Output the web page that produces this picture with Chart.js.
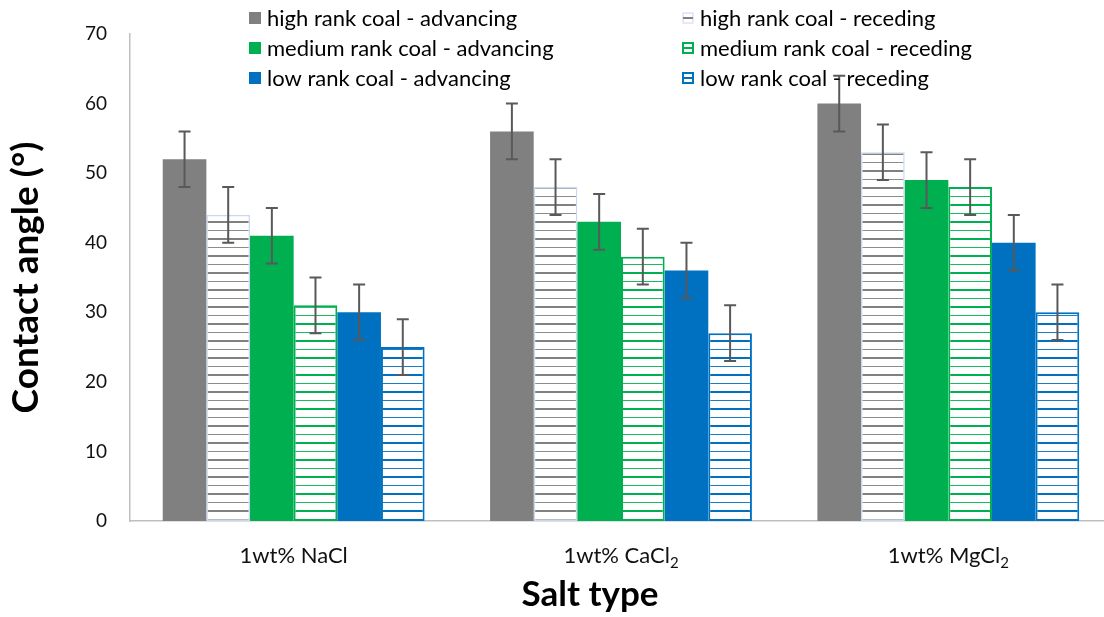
<!DOCTYPE html>
<html>
<head>
<meta charset="utf-8">
<script src="https://cdn.jsdelivr.net/npm/chart.js@4.4.1/dist/chart.umd.min.js"></script>
<style>
html,body{margin:0;padding:0;background:#fff;overflow:hidden;width:1104px;height:617px;}
#wrap{position:relative;width:1112px;height:617px;}
</style>
</head>
<body>
<div id="wrap"><canvas id="c"></canvas></div>
<script>
// ---- data ----
const categories = ['1wt% NaCl', '1wt% CaCl\u2082', '1wt% MgCl\u2082'];
const seriesNames = [
  'high rank coal - advancing', 'high rank coal - receding',
  'medium rank coal - advancing', 'medium rank coal - receding',
  'low rank coal - advancing', 'low rank coal - receding'
];
const highAdvancing   = [52, 56, 60];
const highReceding    = [44, 48, 53];
const mediumAdvancing = [41, 43, 49];
const mediumReceding  = [31, 38, 48];
const lowAdvancing    = [30, 36, 40];
const lowReceding     = [25, 27, 30];
const highAdvancingErr   = [4, 4, 4];
const highRecedingErr    = [4, 4, 4];
const mediumAdvancingErr = [4, 4, 4];
const mediumRecedingErr  = [4, 4, 4];
const lowAdvancingErr    = [4, 4, 4];
const lowRecedingErr     = [4, 4, 4];
const yTicks = [0, 10, 20, 30, 40, 50, 60, 70];
const xTitle = 'Salt type';
const yTitle = 'Contact angle (\u00b0)';

// ---- styles ----
const GRAY = '#808080', GREEN = '#00b050', BLUE = '#0070c0';
function hatch(color) {
  const c = document.createElement('canvas');
  c.width = 8; c.height = 17;
  const x = c.getContext('2d');
  x.fillStyle = '#ffffff'; x.fillRect(0, 0, 8, 17);
  x.fillStyle = color;
  x.fillRect(0, 0, 8, 2);
  x.globalAlpha = 0.9;
  x.fillRect(0, 9, 8, 1);
  return x.createPattern(c, 'repeat');
}
const ctx0 = document.getElementById('c').getContext('2d');

const seriesValues = [highAdvancing, highReceding, mediumAdvancing, mediumReceding, lowAdvancing, lowReceding];
const seriesErrors = [highAdvancingErr, highRecedingErr, mediumAdvancingErr, mediumRecedingErr, lowAdvancingErr, lowRecedingErr];
const fills   = [GRAY, hatch(GRAY), GREEN, hatch(GREEN), BLUE, hatch(BLUE)];
const borders = [GRAY, '#c9d8ee', GREEN, GREEN, BLUE, BLUE];
const bwidths = [0, 1.5, 0, 2, 0, 2];
const lineCol = [GRAY, GRAY, GREEN, GREEN, BLUE, BLUE];
const hatched = [false, true, false, true, false, true];

const datasets = seriesNames.map((n, i) => ({
  label: n,
  data: seriesValues[i],
  errors: seriesErrors[i],
  backgroundColor: fills[i],
  borderColor: borders[i],
  borderWidth: bwidths[i],
  borderSkipped: false,
  barPercentage: 1.0,
  categoryPercentage: 0.8
}));

const FONT = 'Lato, "Noto Sans", sans-serif';

const errorBars = {
  id: 'errorBars',
  afterDatasetsDraw(chart) {
    const ctx = chart.ctx, y = chart.scales.y;
    ctx.save();
    ctx.strokeStyle = '#595959';
    ctx.lineWidth = 2;
    chart.data.datasets.forEach((ds, i) => {
      const meta = chart.getDatasetMeta(i);
      meta.data.forEach((el, j) => {
        const v = ds.data[j], e = ds.errors[j];
        const yt = y.getPixelForValue(v + e), yb = y.getPixelForValue(v - e);
        const x = el.x, cap = 6;
        ctx.beginPath();
        ctx.moveTo(x, yt); ctx.lineTo(x, yb);
        ctx.moveTo(x - cap, yt); ctx.lineTo(x + cap, yt);
        ctx.moveTo(x - cap, yb); ctx.lineTo(x + cap, yb);
        ctx.stroke();
      });
    });
    ctx.restore();
  }
};

// category labels with true subscripts + x title
const SUB = '\u2080\u2081\u2082\u2083\u2084\u2085\u2086\u2087\u2088\u2089';
const xLabels = {
  id: 'xLabels',
  afterDraw(chart) {
    const ctx = chart.ctx, xs = chart.scales.x;
    const size = 22, subSize = 15;
    ctx.save();
    ctx.fillStyle = '#111';
    ctx.textBaseline = 'alphabetic';
    ctx.textAlign = 'left';
    chart.data.labels.forEach((lab, i) => {
      const parts = [];
      for (const ch of lab) {
        const k = SUB.indexOf(ch);
        const sub = k >= 0;
        const t = sub ? String(k) : ch;
        if (parts.length && parts[parts.length - 1].sub === sub) parts[parts.length - 1].t += t;
        else parts.push({ t, sub });
      }
      let w = 0;
      parts.forEach(p => { ctx.font = (p.sub ? subSize : size) + 'px ' + FONT; p.w = ctx.measureText(p.t).width; w += p.w; });
      let x = xs.getPixelForValue(i) - w / 2;
      const base = 563;
      parts.forEach(p => {
        ctx.font = (p.sub ? subSize : size) + 'px ' + FONT;
        ctx.fillText(p.t, x, p.sub ? base + 5 : base);
        x += p.w;
      });
    });
    ctx.font = 'bold 35px ' + FONT;
    ctx.fillStyle = '#000';
    ctx.textAlign = 'center';
    ctx.textBaseline = 'middle';
    ctx.fillText(xTitle, 590, 595);
    ctx.restore();
  }
};

const legendGrid = {
  id: 'legendGrid',
  afterDraw(chart) {
    const ctx = chart.ctx;
    const colX = [249, 682];
    const rowY = [18, 48, 78];
    ctx.save();
    ctx.font = '22px ' + FONT;
    ctx.textBaseline = 'middle';
    chart.data.datasets.forEach((ds, i) => {
      const col = i % 2, row = Math.floor(i / 2);
      const sx = colX[col], sy = rowY[row];
      const s = 12;
      if (hatched[i]) {
        ctx.fillStyle = '#fff';
        ctx.fillRect(sx, sy - s / 2, s, s);
        ctx.strokeStyle = borders[i];
        ctx.lineWidth = i === 1 ? 1 : 2;
        ctx.strokeRect(sx + 1, sy - s / 2 + 1, s - 2, s - 2);
        ctx.fillStyle = lineCol[i];
        ctx.fillRect(sx + 1, sy - 1, s - 2, 2);
      } else {
        ctx.fillStyle = ds.backgroundColor;
        ctx.fillRect(sx, sy - s / 2, s, s);
      }
      ctx.fillStyle = '#000';
      ctx.fillText(ds.label, sx + 18, sy + 1);
    });
    ctx.restore();
  }
};

new Chart(ctx0, {
  type: 'bar',
  data: { labels: categories, datasets },
  plugins: [errorBars, xLabels, legendGrid],
  options: {
    responsive: true,
    maintainAspectRatio: false,
    animation: false,
    layout: { padding: { top: 34, right: 0, left: 0, bottom: 0 } },
    plugins: { legend: { display: false }, tooltip: { enabled: false } },
    scales: {
      x: {
        grid: { display: false },
        border: { display: true, color: '#bfbfbf', width: 1.5 },
        ticks: { display: false },
        afterFit(s) { s.height = 96; }
      },
      y: {
        min: 0, max: 70,
        grid: { display: false },
        border: { display: true, color: '#bfbfbf', width: 1.5 },
        afterBuildTicks(s) { s.ticks = yTicks.map(v => ({ value: v })); },
        ticks: { color: '#111', font: { family: FONT, size: 19 }, padding: 15 },
        title: { display: true, text: yTitle, color: '#000',
                 font: { family: FONT, size: 37, weight: 'bold' }, padding: { top: 4, bottom: 0 } },
        afterFit(s) { s.width = 130; }
      }
    }
  }
});
</script>
</body>
</html>
